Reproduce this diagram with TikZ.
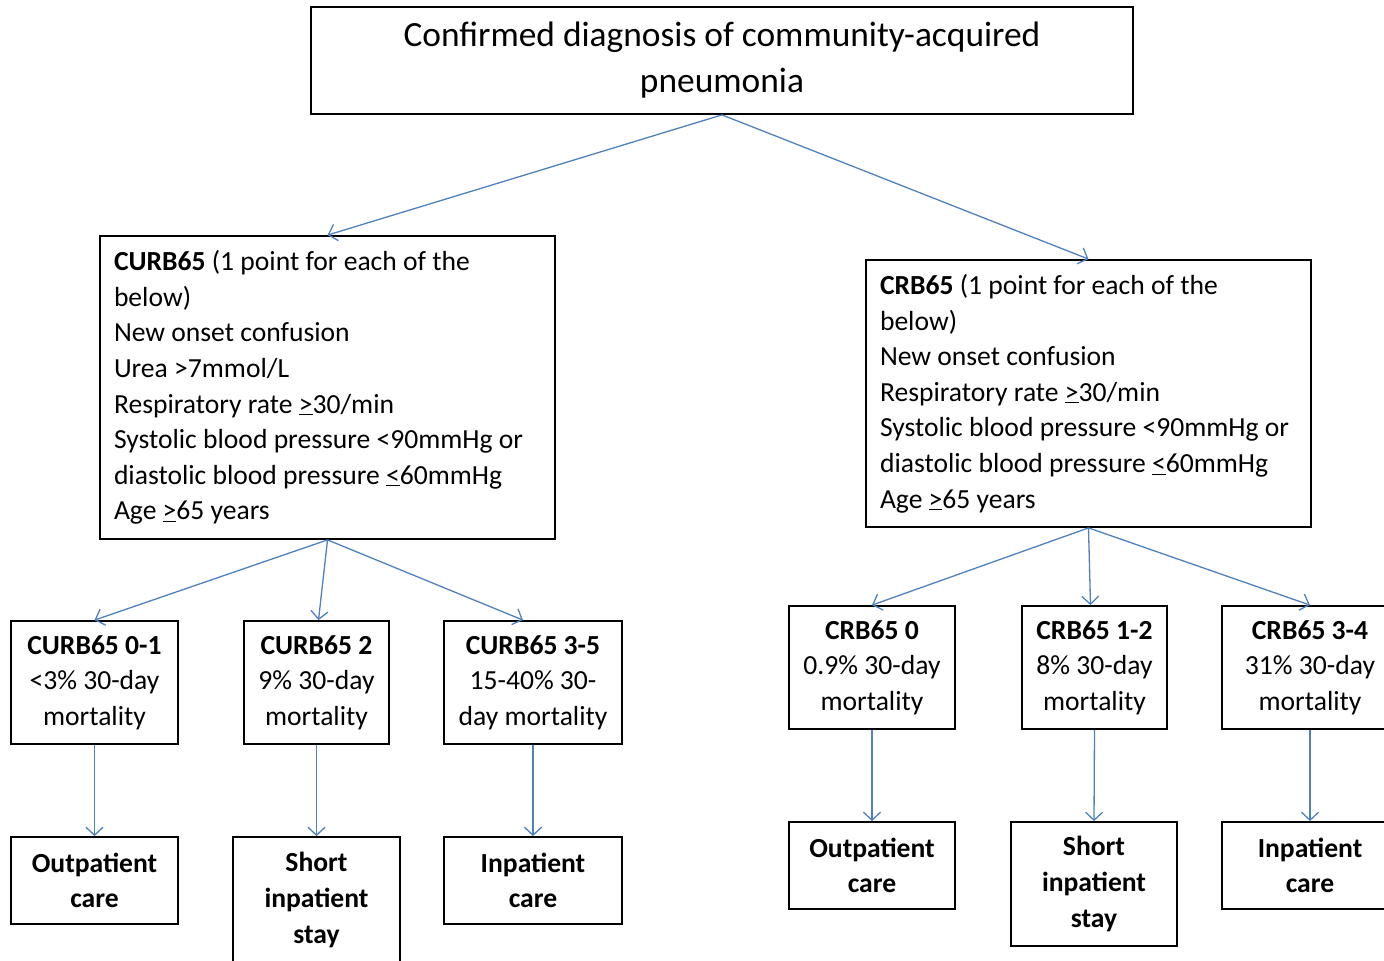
\documentclass[tikz,border=0pt]{standalone}
\usepackage{fontspec}
\setmainfont{Carlito}
\usepackage{tikz}
\usetikzlibrary{arrows.meta}
\definecolor{leadblue}{RGB}{79,129,189}

\tikzset{
  box/.style={draw=black, line width=1.8pt, inner sep=0pt, align=center,
    font=\fontsize{27.6}{35.6}\selectfont},
  care/.style={box, font=\fontsize{27.6}{35.6}\selectfont\bfseries},
  lead/.style={draw=leadblue, line width=1.3pt,
    -{Straight Barb[length=8pt, width=17pt, line width=1.3pt]}}
}

\begin{document}
\begin{tikzpicture}[x=1pt, y=-1pt]
\useasboundingbox (0,0) rectangle (1384,961);
% top
\node[box, minimum width=822, minimum height=107, font=\fontsize{35.4}{46}\selectfont]
  (diag) at (722,60.5) {Confirmed diagnosis of community-acquired\\pneumonia};
% the two scores
\node[box, minimum width=455, minimum height=303, text width=427, align=flush left]
  (curb) at (327.5,387.5) {\textbf{CURB65} (1 point for each of the\\below)\\New onset confusion\\Urea >7mmol/L\\Respiratory rate \underline{>}30/min\\Systolic blood pressure <90mmHg or\\diastolic blood pressure \underline{<}60mmHg\\Age \underline{>}65 years};
\node[box, minimum width=445, minimum height=267, text width=417, align=flush left]
  (crb) at (1088.5,393.5) {\textbf{CRB65} (1 point for each of the\\below)\\New onset confusion\\Respiratory rate \underline{>}30/min\\Systolic blood pressure <90mmHg or\\diastolic blood pressure \underline{<}60mmHg\\Age \underline{>}65 years};
% mortality, left
\node[box, minimum width=167, minimum height=123] (curbA) at (94.5,682.5) {\textbf{CURB65 0-1}\\<3\% 30-day\\mortality};
\node[box, minimum width=145, minimum height=123] (curbB) at (316.5,682.5) {\textbf{CURB65 2}\\9\% 30-day\\mortality};
\node[box, minimum width=178, minimum height=123] (curbC) at (533,682.5) {\textbf{CURB65 3-5}\\15-40\% 30-\\day mortality};
% mortality, right
\node[box, minimum width=166, minimum height=123] (crbA) at (872,667.5) {\textbf{CRB65 0}\\0.9\% 30-day\\mortality};
\node[box, minimum width=145, minimum height=123] (crbB) at (1094.5,667.5) {\textbf{CRB65 1-2}\\8\% 30-day\\mortality};
\node[box, minimum width=176, minimum height=123] (crbC) at (1310,667.5) {\textbf{CRB65 3-4}\\31\% 30-day\\mortality};
% care
\node[care, minimum width=167, minimum height=87] (outA) at (94.5,880.5) {Outpatient\\care};
\node[care, minimum width=167, minimum height=126] (shortA) at (316.5,900) {Short\\inpatient\\stay};
\node[care, minimum width=178, minimum height=87] (inA) at (533,880.5) {Inpatient\\care};
\node[care, minimum width=166, minimum height=87] (outB) at (872,865.5) {Outpatient\\care};
\node[care, minimum width=166, minimum height=124] (shortB) at (1094,884) {Short\\inpatient\\stay};
\node[care, minimum width=176, minimum height=87] (inB) at (1310,865.5) {Inpatient\\care};

\draw[lead] (diag.south) -- (curb.north);
\draw[lead] (diag.south) -- (crb.north);
\draw[lead] (curb.south) -- (curbA.north);
\draw[lead] (curb.south) -- ([xshift=2pt]curbB.north);
\draw[lead] (curb.south) -- ([xshift=-10pt]curbC.north);
\draw[lead] (crb.south) -- (crbA.north);
\draw[lead] (crb.south) -- ([xshift=-4pt]crbB.north);
\draw[lead] (crb.south) -- (crbC.north);
\draw[lead] (curbA) -- (outA);
\draw[lead] (curbB) -- (shortA);
\draw[lead] (curbC) -- (inA);
\draw[lead] (crbA) -- (outB);
\draw[lead] (crbB.south) -- (shortB.north);
\draw[lead] (crbC) -- (inB);
\end{tikzpicture}
\end{document}
